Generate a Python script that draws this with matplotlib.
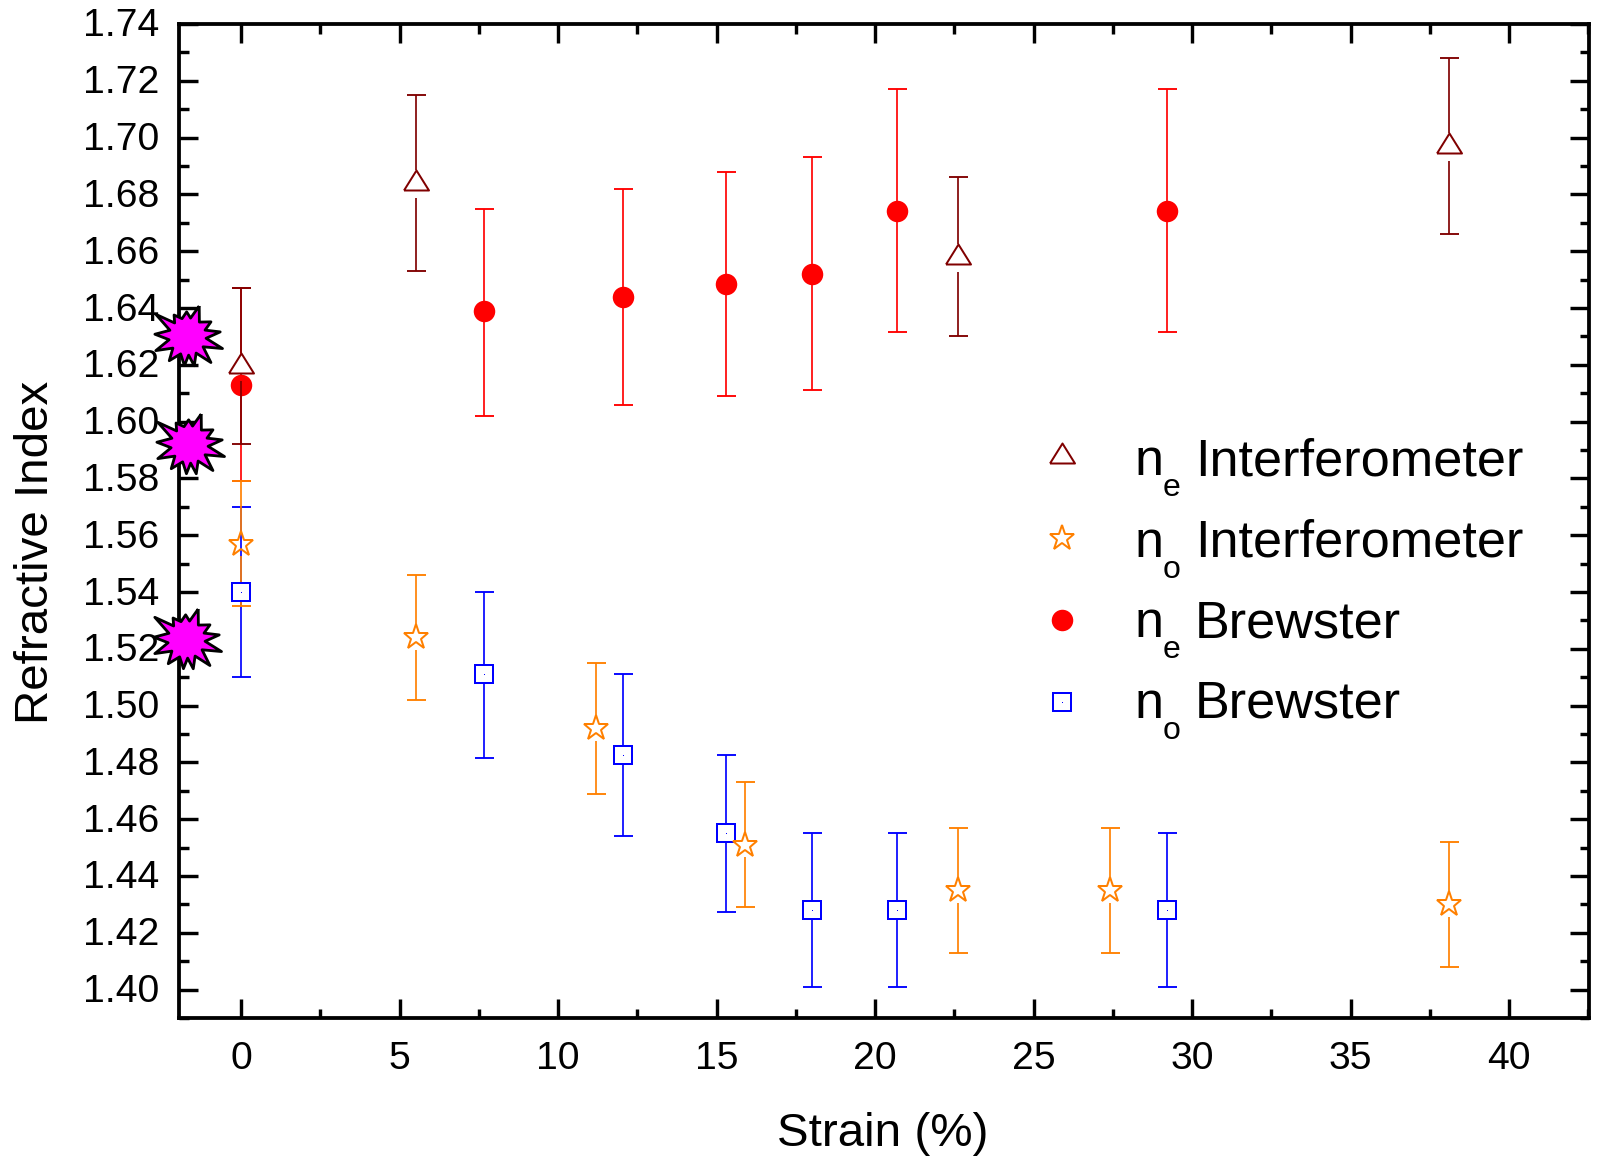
import numpy as np
import matplotlib
matplotlib.use("Agg")
import matplotlib.pyplot as plt
from matplotlib.markers import MarkerStyle
from matplotlib.ticker import MultipleLocator, FormatStrFormatter
from matplotlib.transforms import ScaledTranslation

plt.rcParams['font.family'] = ['Liberation Sans', 'DejaVu Sans']

# --- data ---
ne_int_x = [0, 5.53, 22.6, 38.1]
ne_int_y = [1.6195, 1.684, 1.658, 1.697]
ne_int_lo = [1.592, 1.653, 1.630, 1.666]
ne_int_hi = [1.647, 1.715, 1.686, 1.728]

no_int_x = [0, 5.53, 11.2, 15.9, 22.6, 27.4, 38.1]
no_int_y = [1.557, 1.524, 1.492, 1.451, 1.435, 1.435, 1.430]
no_int_lo = [1.535, 1.502, 1.469, 1.429, 1.413, 1.413, 1.408]
no_int_hi = [1.579, 1.546, 1.515, 1.473, 1.457, 1.457, 1.452]

brew_x = [0, 7.67, 12.04, 15.3, 18.0, 20.7, 29.2]
ne_bre_y = [1.613, 1.639, 1.644, 1.6485, 1.652, 1.674, 1.674]
ne_bre_lo = [1.579, 1.602, 1.606, 1.609, 1.611, 1.6315, 1.6315]
ne_bre_hi = [1.647, 1.675, 1.682, 1.688, 1.693, 1.717, 1.717]

no_bre_y = [1.540, 1.511, 1.4825, 1.455, 1.428, 1.428, 1.428]
no_bre_lo = [1.510, 1.4815, 1.454, 1.4275, 1.401, 1.401, 1.401]
no_bre_hi = [1.570, 1.540, 1.511, 1.4825, 1.455, 1.455, 1.455]

burst_x = [-1.71, -1.65, -1.74]
burst_y = [1.6300, 1.5920, 1.5235]

series_names = ['Interferometer', 'Interferometer', 'Brewster', 'Brewster']
series_subs = ['e', 'o', 'e', 'o']
x_ticks = [0, 5, 10, 15, 20, 25, 30, 35, 40]

# --- style ---
DARK, ORANGE, RED, BLUE = '#800000', '#FF8000', '#FF0000', '#0000FF'
W, H, DPI = 1601, 1160, 100
PX = 72 / DPI
L, R, T, B = 179, 1589, 24, 1018
YMIN, YMAX = 1.39, 1.74
LW = 1.7 * PX
MEW = 2.0 * PX
CAP = 19 * PX
STAR_MS = 26 * PX

tri = MarkerStyle(np.array([(-12.5, -7), (12.5, -7), (0, 13), (-12.5, -7)], float), joinstyle='miter')
TRI_MS = 26 * PX

tips = [(69, 98), (32, 83), (8, 99), (-19, 111), (-48, 105), (-77, 90), (-96, 88),
        (-127, 91), (-156, 104), (176, 98), (145, 116), (122, 76), (92, 74)]
verts = []
for i, (a, r) in enumerate(tips):
    a2 = tips[(i + 1) % len(tips)][0]
    d = (a2 - a + 180) % 360 - 180
    am = a + d / 2
    verts.append((r * np.cos(np.radians(a)), r * np.sin(np.radians(a))))
    verts.append((56 * np.cos(np.radians(am)), 56 * np.sin(np.radians(am))))
verts.append(verts[0])
burst = MarkerStyle(np.array(verts) / 3.0, joinstyle='miter')
BURST_MS = 2 * np.abs(np.array(verts) / 3.0).max() * PX

fig = plt.figure(figsize=(W / DPI, H / DPI), dpi=DPI, facecolor='white')
ax = fig.add_axes([L / W, 1 - B / H, (R - L) / W, (B - T) / H])
ax.set_xlim(-1.96, 42.52)
ax.set_ylim(YMIN, YMAX)
unit = (YMAX - YMIN) / (B - T)


def bars(x, y, lo, hi, color, up, down, z):
    x, y, lo, hi = map(np.asarray, (x, y, lo, hi))
    ax.vlines(x, y + up * unit, hi, color=color, lw=LW, zorder=z)
    ax.vlines(x, lo, y - down * unit, color=color, lw=LW, zorder=z)
    ax.plot(x, hi, ls='none', marker='_', ms=CAP, mew=LW * 1.1, color=color, zorder=z)
    ax.plot(x, lo, ls='none', marker='_', ms=CAP, mew=LW * 1.1, color=color, zorder=z)


# ne Brewster
bars(brew_x, ne_bre_y, ne_bre_lo, ne_bre_hi, RED, 0, 0, 2)
ax.plot(brew_x, ne_bre_y, ls='none', marker='o', ms=21.5 * PX, mfc=RED, mec=RED, mew=0, zorder=2.1)
# ne Interferometer
bars(ne_int_x, ne_int_y, ne_int_lo, ne_int_hi, DARK, 13, 15, 3)
ax.plot(ne_int_x, ne_int_y, ls='none', marker=tri, ms=TRI_MS, mfc='white', mec=DARK, mew=MEW, zorder=3.1)
# no Brewster bars, no Interferometer bars
bars(brew_x, no_bre_y, no_bre_lo, no_bre_hi, BLUE, 9, 9, 4)
bars(no_int_x, no_int_y, no_int_lo, no_int_hi, ORANGE, 10, 12.5, 5)
ax.plot(brew_x, no_bre_y, ls='none', marker='s', ms=17.5 * PX, mfc='white', mec=BLUE, mew=MEW, zorder=6)
ax.plot(brew_x, no_bre_y, ls='none', marker='s', ms=1.0 * PX, mfc=BLUE, mec=BLUE, mew=0, zorder=6.1)
ax.plot(no_int_x, no_int_y, ls='none', marker='*', ms=STAR_MS, mfc='none', mec=ORANGE, mew=MEW, zorder=7)

ax.plot(burst_x, burst_y, ls='none', marker=burst, ms=BURST_MS, mfc='#FF00FF', mec='black',
        mew=2.8 * PX, clip_on=False, zorder=20)

# axes
for s in ax.spines.values():
    s.set_linewidth(3.8 * PX)
ax.xaxis.set_major_locator(plt.FixedLocator(x_ticks))
ax.xaxis.set_minor_locator(MultipleLocator(2.5))
ax.yaxis.set_major_locator(MultipleLocator(0.02))
ax.yaxis.set_minor_locator(MultipleLocator(0.01))
ax.yaxis.set_major_formatter(FormatStrFormatter('%.2f'))
ax.tick_params(which='major', direction='in', length=19 * PX, width=3.4 * PX, top=True, right=True)
ax.tick_params(which='minor', direction='in', length=9.5 * PX, width=3.4 * PX, top=True, right=True)
ax.tick_params(axis='x', which='major', labelsize=28.2, pad=23 * PX)
ax.tick_params(axis='y', which='major', labelsize=28.2, pad=20 * PX)
up_shift = ScaledTranslation(0, 1.5 / DPI, fig.dpi_scale_trans)
for lab in ax.get_yticklabels():
    lab.set_transform(lab.get_transform() + up_shift)

ax.set_xlabel('Strain (%)', fontsize=34.2, va='baseline')
ax.xaxis.set_label_coords(883 / W, 1 - 1146 / H, transform=fig.transFigure)
ax.set_ylabel('Refractive Index', fontsize=34.2)
ax.yaxis.set_label_coords(58 / W, 1 - 552 / H, transform=fig.transFigure)

# legend
fx = lambda p: p / W
fy = lambda p: 1 - p / H
leg_y = [456, 538, 620, 702]
leg_base = [475, 557, 637, 718]
handles = [
    dict(marker=tri, ms=TRI_MS, mfc='white', mec=DARK, mew=MEW),
    dict(marker='*', ms=STAR_MS, mfc='none', mec=ORANGE, mew=MEW),
    dict(marker='o', ms=21.5 * PX, mfc=RED, mec=RED, mew=0),
    dict(marker='s', ms=17.5 * PX, mfc='white', mec=BLUE, mew=MEW),
]
for i, h in enumerate(handles):
    ax.plot([fx(1062)], [fy(leg_y[i])], ls='none', transform=fig.transFigure, zorder=8, **h)
    fig.text(fx(1135), fy(leg_base[i]), 'n', fontsize=37.6, va='baseline', ha='left')
    fig.text(fx(1163), fy(leg_base[i] + 21), series_subs[i], fontsize=23, va='baseline', ha='left')
    fig.text(fx(1195), fy(leg_base[i]), series_names[i], fontsize=37.6, va='baseline', ha='left')
ax.plot([fx(1062)], [fy(leg_y[3])], ls='none', marker='s', ms=1.0 * PX, mfc=BLUE, mec=BLUE, mew=0,
        transform=fig.transFigure, zorder=9)

fig.savefig('out.png', dpi=DPI, facecolor='white')
